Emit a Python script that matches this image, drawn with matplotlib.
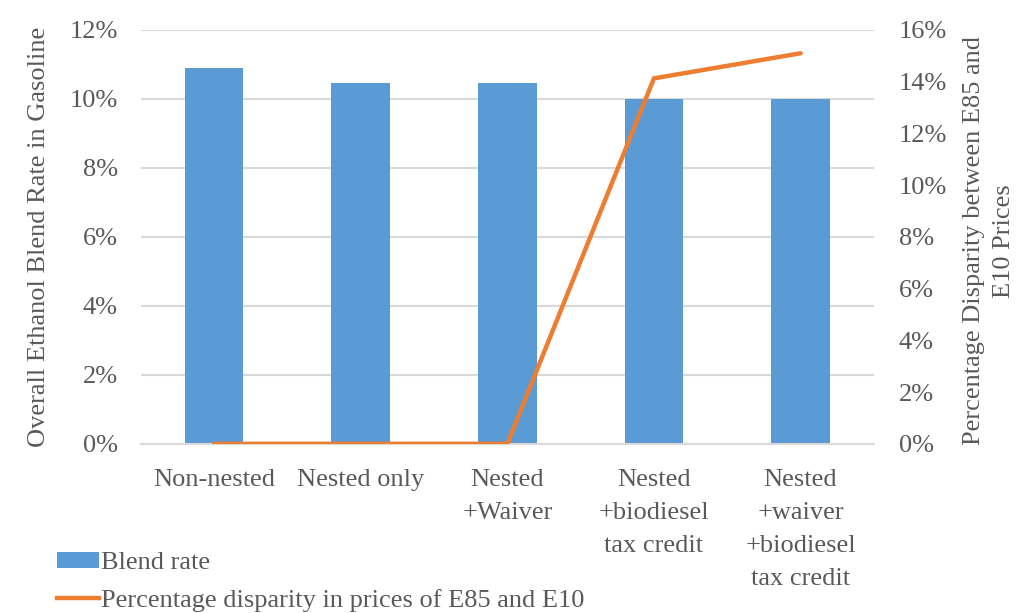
import matplotlib
matplotlib.use("Agg")
from matplotlib import pyplot as plt
from matplotlib.patches import Patch
from matplotlib.lines import Line2D
from matplotlib.ticker import FuncFormatter
import numpy as np

categories = ["Non-nested", "Nested only", "Nested\n+Waiver",
              "Nested\n+biodiesel\ntax credit", "Nested\n+waiver\n+biodiesel\ntax credit"]
blend_rate = [0.1088, 0.1045, 0.1045, 0.100, 0.100]
price_disparity = [0.0, 0.0, 0.0, 0.1412, 0.1509]

bar_color = "#5B9BD5"
line_color = "#ED7D31"
text_color = "#595959"
grid_color = "#D9D9D9"

plt.rcParams["font.family"] = ["Liberation Serif", "DejaVu Serif"]
plt.rcParams["font.size"] = 19
plt.rcParams["text.color"] = text_color

fig = plt.figure(figsize=(10.28, 6.13), dpi=100)
ax = fig.add_axes([0.137, 0.276, 0.713, 0.6755])
ax2 = ax.twinx()

x = np.arange(len(categories))
ax.bar(x, blend_rate, width=0.4, color=bar_color, zorder=2)
ax2.plot(x, price_disparity, color=line_color, linewidth=3.2,
         solid_capstyle="round", solid_joinstyle="miter", zorder=3)

ax.set_xlim(-0.5, len(categories) - 0.5)
ax.set_ylim(0, 0.12)
ax.set_yticks(np.arange(0, 0.121, 0.02))
ax2.set_ylim(0, 0.16)
ax2.set_yticks(np.arange(0, 0.161, 0.02))

pct = FuncFormatter(lambda v, _: f"{v * 100:.0f}%")
ax.yaxis.set_major_formatter(pct)
ax2.yaxis.set_major_formatter(pct)

ax.yaxis.grid(True, color=grid_color, linewidth=1.5, zorder=0)
ax.set_axisbelow(True)
ax.set_xticks(x)
ax.set_xticklabels(categories, linespacing=1.65)

for a in (ax, ax2):
    for side in ("top", "left", "right", "bottom"):
        a.spines[side].set_visible(False)
    a.tick_params(length=0, colors=text_color, labelsize=19)
ax.spines["bottom"].set_visible(True)
ax.spines["bottom"].set_color(grid_color)
ax.spines["bottom"].set_linewidth(1.5)

ax.tick_params(axis="y", pad=16.5)
ax2.tick_params(axis="y", pad=18)
ax.tick_params(axis="x", pad=18)

ax.set_ylabel("Overall Ethanol Blend Rate in Gasoline", color=text_color)
ax.yaxis.set_label_coords(-0.124, 0.5)
ax2.set_ylabel("Percentage Disparity between E85 and\nE10 Prices", color=text_color,
               linespacing=1.45)
ax2.yaxis.set_label_coords(1.122, 0.49)

handles = [Patch(facecolor=bar_color, edgecolor="none"),
           Line2D([0], [0], color=line_color, linewidth=3.2)]
labels = ["Blend rate", "Percentage disparity in prices of E85 and E10"]
fig.legend(handles, labels, loc="lower left", bbox_to_anchor=(0.037, -0.028),
           frameon=False, handlelength=1.6, handleheight=0.6, handletextpad=0.1,
           labelspacing=0.55, borderpad=0.2, fontsize=19, labelcolor=text_color)

fig.savefig("out.png", dpi=100)
